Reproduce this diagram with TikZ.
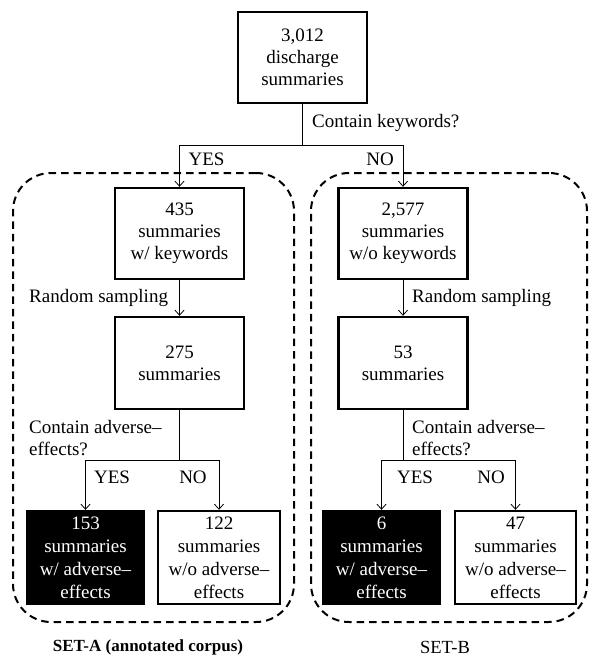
\documentclass[tikz,border=0pt]{standalone}
\usepackage{fontspec}
\setmainfont{Liberation Serif}
\usetikzlibrary{arrows.meta}
\begin{document}
\begin{tikzpicture}[x=1pt,y=-1pt,
  txt/.style={font=\fontsize{19}{22}\selectfont},
  box/.style={txt, draw, line width=2.4pt, align=center, inner sep=0pt,
    minimum width=129pt, minimum height=91pt},
  leaf/.style={box, font=\fontsize{19}{23}\selectfont, minimum height=93pt},
  dark/.style={leaf, fill=black, draw=black, text=white},
  lbl/.style={txt, inner sep=0pt, anchor=west, align=left},
  conn/.style={line width=0.8pt},
  arr/.style={conn, -{Straight Barb[length=5pt,width=9pt]}},
  frame/.style={draw, line width=2pt, dash pattern=on 7.5pt off 5pt,
    rounded corners=38pt, minimum width=281pt, minimum height=449pt, inner sep=0pt}
]
\useasboundingbox (0,0) rectangle (593,656);

% dashed frames
\node[frame] (fa) at (153.5,397.5) {};
\node[frame, minimum width=276pt] (fb) at (449,397.5) {};

% top
\node[box] (t) at (302.5,57.5) {3,012\\discharge\\summaries};
\coordinate (j1) at (302.5,145);
\node[lbl] (lk) at (312,123) {Contain keywords?};

% left column
\node[box] (a1) at (179.5,233.5) {435\\summaries\\w/ keywords};
\node[box, minimum height=92pt] (a2) at (179.5,363) {275\\summaries};
\node[lbl] (la) at (29,298) {Random sampling};
\node[lbl] (lc) at (29,438.5) {Contain adverse--\\effects?};
\coordinate (j2) at (179.5,460);
\node[dark, minimum width=117pt] (a3) at (85.5,557.5) {153\\summaries\\w/ adverse--\\effects};
\node[leaf, minimum width=122pt] (a4) at (219,557.5) {122\\summaries\\w/o adverse--\\effects};

% right column
\node[box] (b1) at (403,233.5) {2,577\\summaries\\w/o keywords};
\node[box, minimum height=92pt] (b2) at (403,363) {53\\summaries};
\node[lbl] (lb) at (412,298) {Random sampling};
\node[lbl] (ld) at (412,438.5) {Contain adverse--\\effects?};
\coordinate (j3) at (403,460);
\node[dark, minimum width=117pt] (b3) at (381.5,557.5) {6\\summaries\\w/ adverse--\\effects};
\node[leaf, minimum width=121pt] (b4) at (515.5,557.5) {47\\summaries\\w/o adverse--\\effects};

% branch labels
\node[txt, inner sep=0pt] (y1) at (206.5,159) {YES};
\node[txt, inner sep=0pt] (n1) at (380,159) {NO};
\node[txt, inner sep=0pt] (y2) at (112,477) {YES};
\node[txt, inner sep=0pt] (n2) at (193,477) {NO};
\node[txt, inner sep=0pt] (y3) at (415,477) {YES};
\node[txt, inner sep=0pt] (n3) at (491,477) {NO};

% set labels
\node[font=\fontsize{17}{20}\selectfont\bfseries, inner sep=0pt] (sa) at (148,647) {SET-A (annotated corpus)};
\node[font=\fontsize{18.5}{20}\selectfont, inner sep=0pt] (sb) at (445,647) {SET-B};

% connectors
\draw[conn] (t.south) -- (j1);
\draw[arr] (j1) -| (a1.north);
\draw[arr] (j1) -| (b1.north);
\draw[arr] (a1.south) -- (a2.north);
\draw[arr] (b1.south) -- (b2.north);
\draw[conn] (a2.south) -- (j2);
\draw[arr] (j2) -| (a3.north);
\draw[arr] (j2) -| (a4.north);
\draw[conn] (b2.south) -- (j3);
\draw[arr] (j3) -| (b3.north);
\draw[arr] (j3) -| (b4.north);
\end{tikzpicture}
\end{document}
